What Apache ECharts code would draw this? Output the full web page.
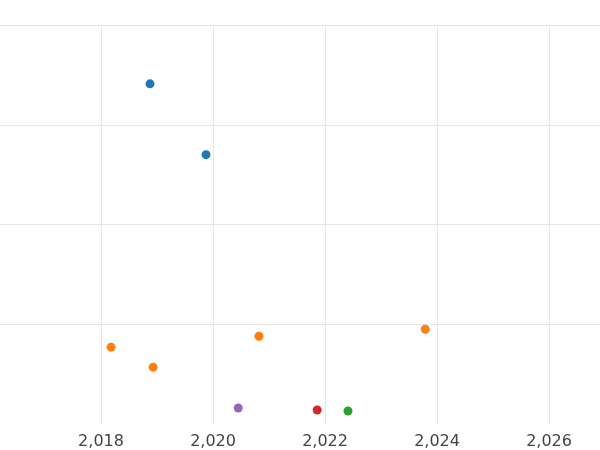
<!DOCTYPE html>
<html>
<head>
  <meta charset="utf-8">
  <style>
    html, body { margin: 0; padding: 0; background: #fff; }
  </style>
</head>
<body>
  <div id="main" style="width: 600px; height: 450px"></div>
</body>
<script src="https://cdn.jsdelivr.net/npm/echarts@6/dist/echarts.min.js"></script>
<script>
  var seriesColors = ['#1f77b4', '#ff7f0e', '#9467bd', '#d62728', '#2ca02c'];
  var xTicks = [2018, 2020, 2022, 2024, 2026];
  var blueX = [2018.875, 2019.875];
  var blueY = [341, 270];
  var orangeX = [2018.18, 2018.93, 2020.82, 2023.79];
  var orangeY = [77, 57, 88, 95];
  var purpleX = [2020.45];
  var purpleY = [16];
  var redX = [2021.86];
  var redY = [14];
  var greenX = [2022.41];
  var greenY = [13];

  function pts(xs, ys) {
    return xs.map(function(x, i) { return [x, ys[i]]; });
  }

  var groups = [pts(blueX, blueY), pts(orangeX, orangeY), pts(purpleX, purpleY),
                pts(redX, redY), pts(greenX, greenY)];

  var chart = echarts.init(document.getElementById('main'));
  chart.setOption({
    animation: false,
    grid: { left: 0, right: 0, top: 25, bottom: 24 },
    xAxis: {
      type: 'value', min: 2016.196, max: 2026.91,
      axisLine: { show: false },
      axisTick: { show: false, customValues: xTicks },
      axisLabel: {
        color: '#444', fontSize: 16, margin: 10, fontFamily: 'DejaVu Sans',
        customValues: xTicks
      },
      splitLine: { lineStyle: { color: '#e6e6e6', width: 1.2 } }
    },
    yAxis: {
      type: 'value', min: 0, max: 400, interval: 100,
      axisLine: { show: false }, axisTick: { show: false }, axisLabel: { show: false },
      splitLine: { showMinLine: false, lineStyle: { color: '#e6e6e6', width: 1.2 } }
    },
    series: groups.map(function(g, i) {
      return {
        type: 'scatter', data: g, symbolSize: 9,
        itemStyle: { color: seriesColors[i], opacity: 1 }
      };
    })
  });
</script>
</html>
